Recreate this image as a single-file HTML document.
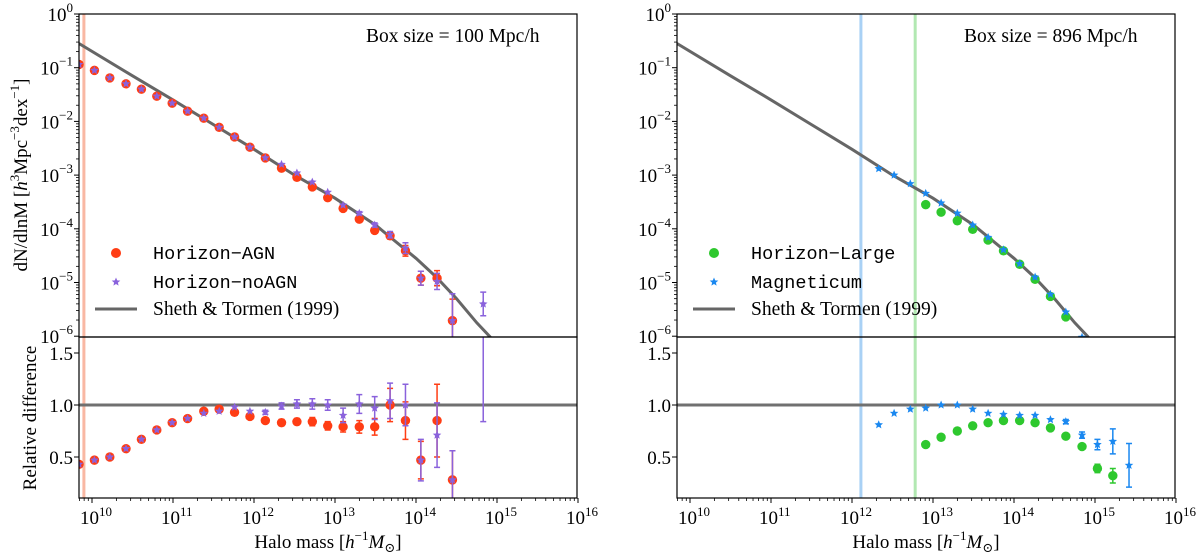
<!DOCTYPE html>
<html><head><meta charset="utf-8">
<style>
html,body{margin:0;padding:0;background:#fff;width:1200px;height:558px;overflow:hidden}
svg{display:block}
text{font-family:"Liberation Serif","DejaVu Serif",serif;fill:#000}
.mono{font-family:"Liberation Mono","DejaVu Sans Mono",monospace}
</style></head>
<body>
<svg id="chart" width="1200" height="558" viewBox="0 0 1200 558" xmlns="http://www.w3.org/2000/svg">
<defs>
<clipPath id="cu0"><rect x="79" y="14" width="498" height="323"/></clipPath>
<clipPath id="cl0"><rect x="79" y="337" width="498" height="161"/></clipPath>
<clipPath id="cu1"><rect x="677" y="14" width="498" height="323"/></clipPath>
<clipPath id="cl1"><rect x="677" y="337" width="498" height="161"/></clipPath>
</defs>
</svg>
<script>
// ---- data ----
const agnLogM = [9.84,10.03,10.22,10.42,10.61,10.80,10.99,11.18,11.38,11.57,11.76,11.95,12.14,12.34,12.53,12.72,12.91,13.10,13.30,13.49,13.68,13.87,14.06,14.26,14.45];
const agnLogN = [-0.94,-1.05,-1.19,-1.30,-1.40,-1.53,-1.66,-1.81,-1.94,-2.11,-2.29,-2.48,-2.68,-2.87,-3.04,-3.22,-3.42,-3.62,-3.82,-4.03,-4.13,-4.41,-4.92,-4.92,-5.71];
const agnErrN = [0,0,0,0,0,0,0,0,0,0,0,0,0,0,0,0,0,0,0,0.04,0.06,0.1,0.13,0.14,0.4];
const agnRatio = [0.43,0.47,0.50,0.58,0.67,0.76,0.83,0.87,0.94,0.96,0.93,0.89,0.85,0.83,0.84,0.84,0.80,0.79,0.79,0.79,1.00,0.85,0.47,0.85,0.28];
const agnErrR = [0,0,0,0,0,0,0,0,0,0,0,0,0.02,0.03,0.03,0.04,0.04,0.05,0.06,0.08,0.16,0.18,0.18,0.35,0.28];
const noLogM = [9.84,10.03,10.22,10.42,10.61,10.80,10.99,11.18,11.38,11.57,11.76,11.95,12.14,12.34,12.53,12.72,12.91,13.10,13.30,13.49,13.68,13.87,14.06,14.26,14.45,14.83];
const noLogN = [-0.94,-1.05,-1.19,-1.30,-1.40,-1.53,-1.66,-1.81,-1.94,-2.11,-2.29,-2.48,-2.68,-2.80,-2.96,-3.13,-3.32,-3.56,-3.71,-3.93,-4.11,-4.36,-4.92,-4.98,-5.71,-5.40];
const noErrN = [0,0,0,0,0,0,0,0,0,0,0,0,0,0,0,0,0,0,0.03,0.04,0.06,0.1,0.13,0.15,0.5,0.22];
const noRatio = [0.43,0.47,0.50,0.58,0.67,0.76,0.83,0.87,0.92,0.94,0.98,0.94,0.93,0.99,1.01,1.01,1.00,0.90,1.01,0.97,1.04,1.00,0.47,0.71,0.28,1.75];
const noErrR = [0,0,0,0,0,0,0,0,0,0,0,0,0.02,0.03,0.04,0.05,0.05,0.07,0.09,0.11,0.17,0.2,0.2,0.31,0.28,0.91];
const magLogM = [12.33,12.52,12.72,12.91,13.10,13.30,13.49,13.68,13.87,14.07,14.26,14.45,14.64,14.84,15.03,15.22,15.42];
const magLogN = [-2.88,-3.00,-3.16,-3.34,-3.52,-3.71,-3.93,-4.16,-4.39,-4.65,-4.90,-5.22,-5.55,-6.02,-7,-7,-7];
const magRatio = [0.81,0.92,0.96,0.97,1.00,1.00,0.96,0.92,0.91,0.90,0.90,0.86,0.84,0.71,0.62,0.65,0.42];
const magErrR = [0,0,0,0,0,0,0,0,0,0,0,0,0.02,0.03,0.05,0.12,0.21];
const hlLogM = [12.91,13.10,13.30,13.49,13.68,13.87,14.07,14.26,14.45,14.64,14.84,15.03,15.22];
const hlLogN = [-3.55,-3.69,-3.85,-4.01,-4.21,-4.41,-4.66,-4.94,-5.26,-5.64,-7,-7,-7];
const hlRatio = [0.62,0.69,0.75,0.80,0.83,0.85,0.85,0.83,0.78,0.70,0.60,0.39,0.32];
const hlErrR = [0,0,0,0,0,0,0,0,0,0,0.02,0.04,0.07];
const stLogM = [9.84,10.5,11.0,11.5,12.0,12.5,13.0,13.5,14.0,14.25,14.5,14.75,14.92];
const stLogN = [-0.55,-1.15,-1.6,-2.06,-2.52,-3.0,-3.43,-3.93,-4.55,-4.9,-5.3,-5.75,-6.02];
const xTickExp = [10,11,12,13,14,15,16];
const yTickExp = [0,-1,-2,-3,-4,-5,-6];
const rTicks = [0.5,1.0,1.5];

// ---- scales ----
const NS='http://www.w3.org/2000/svg';
const svg=document.getElementById('chart');
function xS(lm,off){return 92+(lm-10)*81+off;}
function yU(l){return 14+(-l)*53.7;}
function yL(r){return 405-(r-1)*104;}
function mk(tag,attrs,parent){const e=document.createElementNS(NS,tag);for(const k in attrs)e.setAttribute(k,attrs[k]);(parent||svg).appendChild(e);return e;}
function star(cx,cy,r){let p='';for(let i=0;i<10;i++){const a=-Math.PI/2+i*Math.PI/5;const rr=i%2?r*0.45:r;p+=(i?'L':'M')+(cx+rr*Math.cos(a)).toFixed(1)+' '+(cy+rr*Math.sin(a)).toFixed(1);}return p+'Z';}

function panel(pi,off){
  const L=79+off,R=577+off;
  const gU=mk('g',{'clip-path':'url(#cu'+pi+')'});
  
  
  const gL=mk('g',{'clip-path':'url(#cl'+pi+')'});
  
  
  return {gU,gL,L,R};
}

function vline(g,lm,off,color,name){
  for(const [y1,y2] of [[14,337],[337,498]]){
    const l=mk('line',{x1:xS(lm,off),x2:xS(lm,off),y1:y1,y2:y2,stroke:color,'stroke-width':3},g);
    
    
  }
}

function stCurve(g,off){
  let d='';stLogM.forEach((m,i)=>{d+=(i?'L':'M')+xS(m,off).toFixed(1)+' '+yU(stLogN[i]).toFixed(1);});
  const p=mk('path',{d:d,fill:'none',stroke:'#666','stroke-width':3},g);
  
  
}
function unityLine(g,L,R){
  const l=mk('line',{x1:L,x2:R,y1:yL(1),y2:yL(1),stroke:'#707070','stroke-width':3},g);
  
  
}
function errbar(g,x,y1,y2,color,name){
  const e=mk('path',{d:`M${x} ${y1}V${y2}M${x-3} ${y1}H${x+3}M${x-3} ${y2}H${x+3}`,stroke:color,'stroke-width':1.5,fill:'none'},g);
  
  
}
function series(g,xs,ys,errs,off,yf,color,shape,name){
  xs.forEach((m,i)=>{
    const x=xS(m,off),y=yf(ys[i]);
    const er=errs?errs[i]:0;
    if(er>0){
      errbar(g,x,yf(ys[i]+er),yf(ys[i]-er),color,name+'-errorbar');
    }
    let el;
    if(shape==='c') el=mk('circle',{cx:x,cy:y,r:4.7,fill:color},g);
    else el=mk('path',{d:star(x,y,4.5),fill:color},g);
    
    
  });
}

function frameAndTicks(off,withYTitle){
  const L=79+off,R=577+off;
  xTickExp.forEach(e=>{
    const x=xS(e,off);
    const t=mk('line',{x1:x,x2:x,y1:498,y2:503,stroke:'#000','stroke-width':1});
    
    
    const tx=mk('text',{x:x-12,y:524,'font-size':19});
    
    
    tx.innerHTML='10<tspan dy="-8" font-size="13">'+e+'</tspan>';
    for(let k=2;k<10;k++){const xm=xS(e-1+Math.log10(k),off);if(xm>=L&&xm<=R){const m=mk('line',{x1:xm,x2:xm,y1:498,y2:501,stroke:'#000','stroke-width':0.8});}}
  });
  yTickExp.forEach(e=>{
    const y=yU(e);
    const t=mk('line',{x1:L-5,x2:L,y1:y,y2:y,stroke:'#000','stroke-width':1});
    
    
    const tx=mk('text',{x:L-6,y:y+7,'font-size':19,'text-anchor':'end'});
    
    
    tx.innerHTML='10<tspan dy="-9" font-size="13">'+(e<0?'\u2212'+(-e):e)+'</tspan>';
    if(e>-6)for(let k=2;k<10;k++){const ym=yU(e-1+Math.log10(k));const m=mk('line',{x1:L-3,x2:L,y1:ym,y2:ym,stroke:'#000','stroke-width':0.8});}
  });
  rTicks.forEach(r=>{
    const y=yL(r);
    const t=mk('line',{x1:L-5,x2:L,y1:y,y2:y,stroke:'#000','stroke-width':1});
    
    
    const tx=mk('text',{x:L-6,y:y+7,'font-size':19,'text-anchor':'end'});
    
    
    tx.textContent=r.toFixed(1);
  });
  const f1=mk('rect',{x:L,y:14,width:R-L,height:323,fill:'none',stroke:'#000','stroke-width':1.2});
  
  
  const f2=mk('rect',{x:L,y:337,width:R-L,height:161,fill:'none',stroke:'#000','stroke-width':1.2});
  
  
  const xl=mk('text',{x:(L+R)/2,y:548,'font-size':19,'text-anchor':'middle'});
  
  
  xl.innerHTML='Halo mass [<tspan font-style="italic">h</tspan><tspan dy="-8" font-size="13">\u22121</tspan><tspan dy="8" font-style="italic">M</tspan><tspan dy="4" font-size="13">\u2299</tspan><tspan dy="-4">]</tspan>';
  if(withYTitle){
    const yt=mk('text',{x:0,y:0,'font-size':19,'text-anchor':'middle',transform:'translate(27,175) rotate(-90)'});
    
    
    yt.innerHTML='dN/dlnM [<tspan font-style="italic">h</tspan><tspan dy="-8" font-size="13">3</tspan><tspan dy="8">Mpc</tspan><tspan dy="-8" font-size="13">\u22123</tspan><tspan dy="8">dex</tspan><tspan dy="-8" font-size="13">\u22121</tspan><tspan dy="8">]</tspan>';
    const rt=mk('text',{x:0,y:0,'font-size':19,'text-anchor':'middle',transform:'translate(36,418) rotate(-90)'});
    
    
    rt.textContent='Relative difference';
  }
}

function legend(off,entries,boxText){
  const bt=mk('text',{x:366+off,y:42,'font-size':19.5});
  
  
  bt.textContent=boxText;
  entries.forEach((en,i)=>{
    const y=[253,282,309][i];
    const mx=116+off;
    let m;
    if(en.t==='c') m=mk('circle',{cx:mx,cy:y,r:5,fill:en.c});
    else if(en.t==='s') m=mk('path',{d:star(mx,y,4.5),fill:en.c});
    else m=mk('line',{x1:95+off,x2:137+off,y1:y,y2:y,stroke:'#666','stroke-width':3});
    
    
    const tx=mk('text',{x:153+off,y:y+6,'font-size':en.t==='l'?19.5:18.5});
    if(en.t!=='l') tx.setAttribute('class','mono');
    
    
    tx.textContent=en.s;
  });
}

// left panel
const P0=panel(0,0);
vline(P0.gU,9.9,0,'#f9b8a3','resolution-line-agn');
vline(P0.gL,9.9,0,'#f9b8a3','resolution-line-agn');
stCurve(P0.gU,0);
unityLine(P0.gL,P0.L,P0.R);
series(P0.gU,agnLogM,agnLogN,agnErrN,0,yU,'#ff3d14','c','horizon-agn');
series(P0.gU,noLogM,noLogN,noErrN,0,yU,'#8a62dc','s','horizon-noagn');
series(P0.gL,agnLogM,agnRatio,agnErrR,0,yL,'#ff3d14','c','horizon-agn-ratio');
series(P0.gL,noLogM,noRatio,noErrR,0,yL,'#8a62dc','s','horizon-noagn-ratio');
frameAndTicks(0,true);
legend(0,[{t:'c',c:'#ff3d14',s:'Horizon\u2212AGN'},{t:'s',c:'#8a62dc',s:'Horizon\u2212noAGN'},{t:'l',s:'Sheth & Tormen (1999)'}],'Box size = 100 Mpc/h');

// right panel
const OFF=598;
const P1=panel(1,OFF);
vline(P1.gU,12.11,OFF,'#a9d1f5','resolution-line-magneticum');
vline(P1.gL,12.11,OFF,'#a9d1f5','resolution-line-magneticum');
vline(P1.gU,12.78,OFF,'#b2e8b2','resolution-line-horizon-large');
vline(P1.gL,12.78,OFF,'#b2e8b2','resolution-line-horizon-large');
stCurve(P1.gU,OFF);
unityLine(P1.gL,P1.L,P1.R);
series(P1.gU,hlLogM,hlLogN,null,OFF,yU,'#2ec82e','c','horizon-large');
series(P1.gU,magLogM,magLogN,null,OFF,yU,'#1a88f0','s','magneticum');
series(P1.gL,hlLogM,hlRatio,hlErrR,OFF,yL,'#2ec82e','c','horizon-large-ratio');
series(P1.gL,magLogM,magRatio,magErrR,OFF,yL,'#1a88f0','s','magneticum-ratio');
frameAndTicks(OFF,false);
legend(OFF,[{t:'c',c:'#2ec82e',s:'Horizon\u2212Large'},{t:'s',c:'#1a88f0',s:'Magneticum'},{t:'l',s:'Sheth & Tormen (1999)'}],'Box size = 896 Mpc/h');
</script>
</body></html>
